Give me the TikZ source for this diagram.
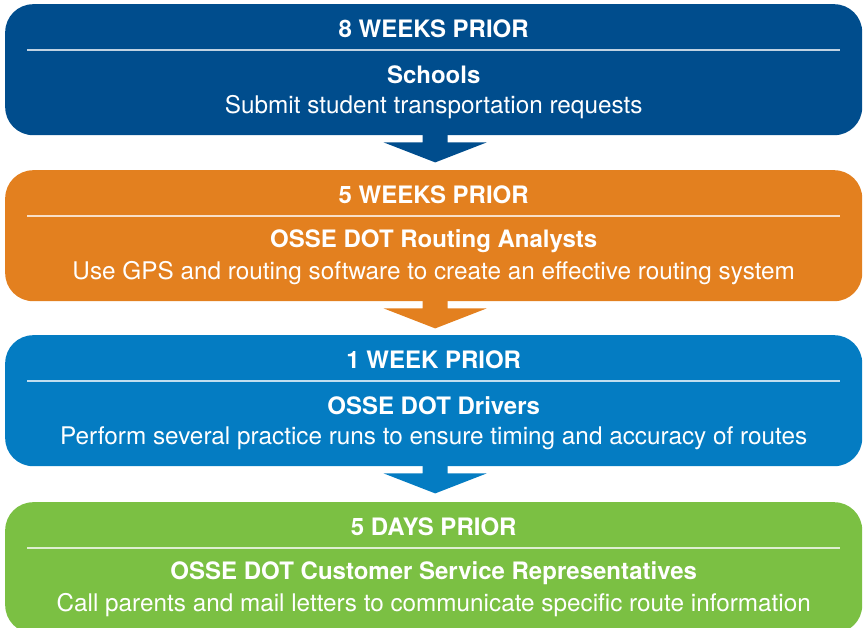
\documentclass[tikz,border=0pt]{standalone}
\usepackage{fontspec}
\setmainfont{TeX Gyre Heros}
\definecolor{navy}{HTML}{004D8D}
\definecolor{amber}{HTML}{E3801F}
\definecolor{sky}{HTML}{047CC2}
\definecolor{leaf}{HTML}{7BC043}
\begin{document}
\begin{tikzpicture}[x=1pt,y=-1pt,
  stage/.style={rectangle, rounded corners=28pt, minimum width=857pt,
    minimum height=131pt, inner sep=0pt, anchor=north west},
  txt/.style={text=white, inner sep=0pt, font=\fontsize{24.3}{28}\selectfont},
  hdr/.style={txt, font=\fontsize{24}{28}\selectfont\bfseries},
  sep/.style={line width=1.2pt}]
\useasboundingbox (0,0) rectangle (866,627);

% stage boxes
\node[stage, fill=navy]  (s1) at (5,4)   {};
\node[stage, fill=amber] (s2) at (5,170) {};
\node[stage, fill=sky]   (s3) at (5,335) {};
\node[stage, fill=leaf]  (s4) at (5,502) {};

% headers, rules and descriptions
\foreach \s/\c/\h/\t/\b in {
  s1/navy/8 WEEKS PRIOR/Schools/Submit student transportation requests,
  s2/amber/5 WEEKS PRIOR/OSSE DOT Routing Analysts/Use GPS and routing software to create an effective routing system,
  s3/sky/1 WEEK PRIOR/OSSE DOT Drivers/Perform several practice runs to ensure timing and accuracy of routes,
  s4/leaf/5 DAYS PRIOR/OSSE DOT Customer Service Representatives/Call parents and mail letters to communicate specific route information}{
  \node[hdr] (\s h) at ([yshift=-25pt]\s.north) {\h};
  \draw[sep, draw=white!75!\c] ([xshift=22pt,yshift=-46pt]\s.north west) -- ([xshift=-22pt,yshift=-46pt]\s.north east);
  \node[hdr] (\s t) at ([yshift=-71pt]\s.north) {\t};
  \node[txt] (\s b) at ([yshift=-103.5pt]\s.north) {\b};
}

% block arrows between stages
\foreach \s/\c in {s1/navy, s2/amber, s3/sky}{
  \fill[\c] ([xshift=-11pt,yshift=1pt]\s.south) -- ++(0,8) -- ++(-39,0)
    -- ++(51.5,20) -- ++(51.5,-20) -- ++(-39,0) -- ++(0,-8) -- cycle;
}
\end{tikzpicture}
\end{document}
